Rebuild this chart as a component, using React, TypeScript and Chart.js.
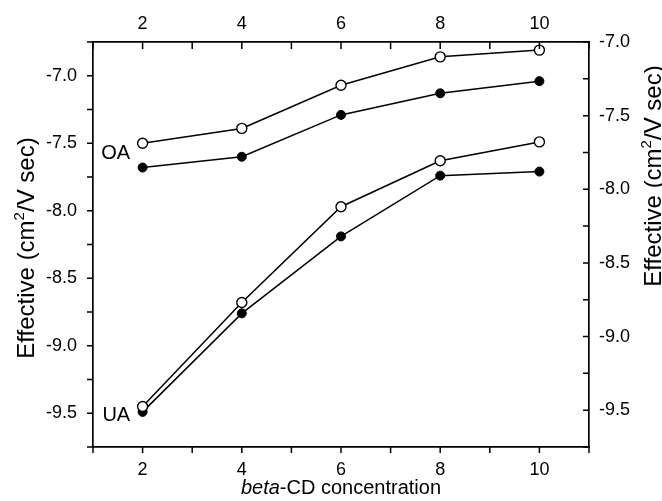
import React, { useEffect, useRef } from "react";
import { Chart, registerables } from "chart.js";

Chart.register(...registerables);

const concentrations = [2, 4, 6, 8, 10];
const oaOpen = [-7.5, -7.39, -7.07, -6.86, -6.81];
const oaFilled = [-7.68, -7.6, -7.29, -7.13, -7.04];
const uaOpen = [-9.45, -8.68, -7.97, -7.63, -7.49];
const uaFilled = [-9.49, -8.76, -8.19, -7.74, -7.71];

const xTickLabels = [2, 4, 6, 8, 10];
const leftTickLabels = [-7.0, -7.5, -8.0, -8.5, -9.0, -9.5];
const rightTickLabels = [-7.0, -7.5, -8.0, -8.5, -9.0, -9.5];

const FONT = "'Liberation Sans', Arial, Helvetica, sans-serif";

const isLabelled = (v: number, list: number[]) => list.some((l) => Math.abs(l - v) < 1e-6);

const toPts = (ys: number[]) => concentrations.map((x, i) => ({ x, y: ys[i] }));

const decorPlugin = {
  id: "decor",
  afterDraw(chart: any) {
    const ctx = chart.ctx as CanvasRenderingContext2D;
    const { left, right, top, bottom } = chart.chartArea;
    const sx = chart.scales.x;
    const sx2 = chart.scales.x2;
    const sy = chart.scales.y;
    const sy2 = chart.scales.y2;
    ctx.save();
    ctx.strokeStyle = "#000";
    ctx.lineWidth = 1.5;
    ctx.beginPath();
    sx.ticks.forEach((t: any) => {
      const p = sx.getPixelForValue(t.value);
      ctx.moveTo(p, bottom);
      ctx.lineTo(p, bottom + 6);
    });
    sx2.ticks.forEach((t: any) => {
      const p = sx2.getPixelForValue(t.value);
      ctx.moveTo(p, top);
      ctx.lineTo(p, top + 7);
    });
    sy.ticks.forEach((t: any) => {
      const p = sy.getPixelForValue(t.value);
      ctx.moveTo(left - 6, p);
      ctx.lineTo(left, p);
    });
    sy2.ticks.forEach((t: any) => {
      const p = sy2.getPixelForValue(t.value);
      ctx.moveTo(right - 6, p);
      ctx.lineTo(right, p);
    });
    ctx.stroke();

    ctx.fillStyle = "#000";
    // series group labels
    ctx.font = `20px ${FONT}`;
    ctx.textAlign = "right";
    ctx.textBaseline = "middle";
    ctx.fillText("OA", sx.getPixelForValue(1.75), sy.getPixelForValue(-7.575));
    ctx.fillText("UA", sx.getPixelForValue(1.75), sy.getPixelForValue(-9.52));

    // bottom title
    const italic = "beta";
    const rest = "-CD concentration";
    ctx.textBaseline = "alphabetic";
    ctx.textAlign = "left";
    ctx.font = `italic 20px ${FONT}`;
    const w1 = ctx.measureText(italic).width;
    ctx.font = `20px ${FONT}`;
    const w2 = ctx.measureText(rest).width;
    const cx = (left + right) / 2;
    const xs = cx - (w1 + w2) / 2;
    ctx.font = `italic 20px ${FONT}`;
    ctx.fillText(italic, xs, 494);
    ctx.font = `20px ${FONT}`;
    ctx.fillText(rest, xs + w1, 494);

    const drawVertical = (bx: number, cy: number) => {
      const a = "Effective (cm";
      const sup = "2";
      const b = "/V sec)";
      ctx.save();
      ctx.translate(bx, cy);
      ctx.rotate(-Math.PI / 2);
      ctx.font = `24px ${FONT}`;
      const wa = ctx.measureText(a).width;
      const wb = ctx.measureText(b).width;
      ctx.font = `15px ${FONT}`;
      const ws = ctx.measureText(sup).width;
      const total = wa + ws + wb;
      const x0 = -total / 2;
      ctx.textAlign = "left";
      ctx.textBaseline = "alphabetic";
      ctx.font = `24px ${FONT}`;
      ctx.fillText(a, x0, 0);
      ctx.font = `15px ${FONT}`;
      ctx.fillText(sup, x0 + wa, -10);
      ctx.font = `24px ${FONT}`;
      ctx.fillText(b, x0 + wa + ws, 0);
      ctx.restore();
    };
    drawVertical(34, 248);
    drawVertical(661, 176);
    ctx.restore();
  },
};

export default function App() {
  const ref = useRef<HTMLCanvasElement | null>(null);
  useEffect(() => {
    if (!ref.current) return;
    const lineStyle = { borderColor: "#000", borderWidth: 1.5, showLine: true, tension: 0, fill: false };
    const openStyle = { pointRadius: 5, pointBackgroundColor: "#fff", pointBorderColor: "#000", pointBorderWidth: 1.4 };
    const filledStyle = { pointRadius: 4.5, pointBackgroundColor: "#000", pointBorderColor: "#000", pointBorderWidth: 1 };
    const tickFont = { family: FONT, size: 18 };
    const chart = new Chart(ref.current, {
      type: "line",
      data: {
        datasets: [
          { label: "OA open", data: toPts(oaOpen), ...lineStyle, ...openStyle },
          { label: "OA filled", data: toPts(oaFilled), ...lineStyle, ...filledStyle },
          { label: "UA open", data: toPts(uaOpen), ...lineStyle, ...openStyle },
          { label: "UA filled", data: toPts(uaFilled), ...lineStyle, ...filledStyle },
        ],
      },
      options: {
        animation: false,
        responsive: false,
        maintainAspectRatio: false,
        layout: { padding: 0 },
        plugins: { legend: { display: false }, tooltip: { enabled: false } },
        scales: {
          x: {
            type: "linear",
            position: "bottom",
            min: 1,
            max: 11,
            afterFit: (s: any) => { s.height = 54; },
            grid: { display: false, drawTicks: false },
            border: { display: true, color: "#000", width: 1.7 },
            ticks: {
              stepSize: 1,
              autoSkip: false,
              maxRotation: 0,
              padding: 12,
              color: "#000",
              font: tickFont,
              callback: (v: any) => (isLabelled(Number(v), xTickLabels) ? String(v) : ""),
            },
          },
          x2: {
            type: "linear",
            position: "top",
            min: 1,
            max: 11,
            afterFit: (s: any) => { s.height = 42; },
            grid: { display: false, drawTicks: false },
            border: { display: true, color: "#000", width: 1.7 },
            ticks: {
              stepSize: 1,
              autoSkip: false,
              maxRotation: 0,
              padding: 7,
              color: "#000",
              font: tickFont,
              callback: (v: any) => (isLabelled(Number(v), xTickLabels) ? String(v) : ""),
            },
          },
          y: {
            type: "linear",
            position: "left",
            min: -9.75,
            max: -6.75,
            afterFit: (s: any) => { s.width = 93; },
            grid: { display: false, drawTicks: false },
            border: { display: true, color: "#000", width: 1.7 },
            ticks: {
              stepSize: 0.25,
              autoSkip: false,
              padding: 16,
              color: "#000",
              font: tickFont,
              callback: (v: any) => (isLabelled(Number(v), leftTickLabels) ? Number(v).toFixed(1) : ""),
            },
          },
          y2: {
            type: "linear",
            position: "right",
            min: -9.75,
            max: -7.0,
            afterFit: (s: any) => { s.width = 73; },
            grid: { display: false, drawTicks: false },
            border: { display: true, color: "#000", width: 1.7 },
            ticks: {
              stepSize: 0.25,
              autoSkip: false,
              padding: 10,
              color: "#000",
              font: tickFont,
              callback: (v: any) => (isLabelled(Number(v), rightTickLabels) ? Number(v).toFixed(1) : ""),
            },
          },
        },
      },
      plugins: [decorPlugin],
    } as any);
    return () => chart.destroy();
  }, []);
  return (
    <div style={{ position: "absolute", left: 0, top: 0, width: 662, height: 501, background: "#fff" }}>
      <canvas ref={ref} width={662} height={501} style={{ display: "block" }} />
    </div>
  );
}
